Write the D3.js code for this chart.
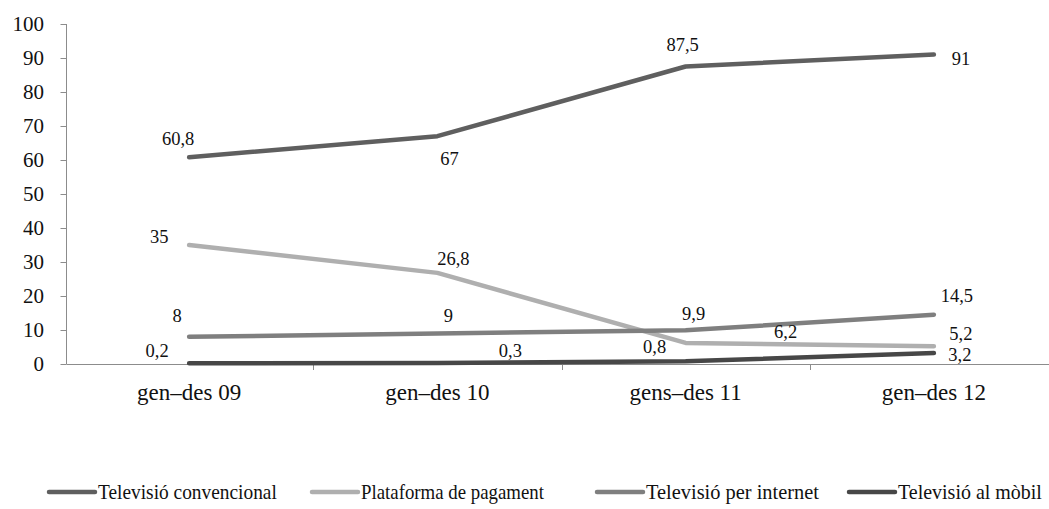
<!DOCTYPE html>
<html>
<head>
<meta charset="utf-8">
<script src="https://cdn.jsdelivr.net/npm/d3@7"></script>
<style>
  body { margin: 0; background: #fff; }
  text { font-family: 'Liberation Serif', Tinos, serif !important; }
</style>
</head>
<body>
<div id="wrapper"></div>
<script>
// categories on the x axis
const categories = ["gen–des 09", "gen–des 10", "gens–des 11", "gen–des 12"];
const seriesNames = [
  "Televisió convencional",
  "Plataforma de pagament",
  "Televisió per internet",
  "Televisió al mòbil"
];
// values per series, one per category
const convencional = [60.8, 67, 87.5, 91];
const pagament = [35, 26.8, 6.2, 5.2];
const internet = [8, 9, 9.9, 14.5];
const mobil = [0.2, 0.3, 0.8, 3.2];
const yTicks = [0, 10, 20, 30, 40, 50, 60, 70, 80, 90, 100];

const seriesValues = [convencional, pagament, internet, mobil];
const colors = ["#5f5f5f", "#afafaf", "#7f7f7f", "#474747"];
const FONT = "'Liberation Serif'";

// where each data label sits relative to its point (px)
const labelOffsets = [
  [[-11, -12], [12, 29], [-3, -16], [27, 10]],
  [[-30, -2], [16, -8], [100, -5], [27, -6]],
  [[-12, -15], [11, -11], [8, -10], [23, -13]],
  [[-32, -6], [73, -6], [-31, -8], [26, 8]]
];

const dimensions = {
  width: 1049,
  height: 509,
  plotLeft: 65,
  plotRight: 1058,
  plotTop: 24,
  plotBottom: 364
};

const fmt = v => String(v).replace(".", ",");

const svg = d3.select("#wrapper")
  .append("svg")
  .attr("width", dimensions.width)
  .attr("height", dimensions.height);

const xScale = d3.scaleBand()
  .domain(categories)
  .range([dimensions.plotLeft, dimensions.plotRight])
  .padding(0);

const xCenter = c => xScale(c) + xScale.bandwidth() / 2;

const yScale = d3.scaleLinear()
  .domain([0, 100])
  .range([dimensions.plotBottom, dimensions.plotTop]);

const axisX = dimensions.plotLeft + 1.5;

// y axis
const yAxis = svg.append("g");
yAxis.append("line")
  .attr("x1", axisX).attr("x2", axisX)
  .attr("y1", yScale(100)).attr("y2", yScale(0))
  .attr("stroke", "#8c8c8c");
yAxis.selectAll(".ytick")
  .data(yTicks)
  .join("line")
  .attr("class", "ytick")
  .attr("x1", axisX - 6).attr("x2", axisX)
  .attr("y1", d => Math.round(yScale(d)) + 0.5)
  .attr("y2", d => Math.round(yScale(d)) + 0.5)
  .attr("stroke", "#8c8c8c");
yAxis.selectAll(".ylabel")
  .data(yTicks)
  .join("text")
  .attr("class", "ylabel")
  .attr("x", 44)
  .attr("y", d => yScale(d) + 7)
  .attr("text-anchor", "end")
  .attr("fill", "#111")
  .attr("font-family", FONT)
  .attr("font-size", 21)
  .text(d => d);

// x axis: line across, ticks between categories
const xAxis = svg.append("g");
xAxis.append("line")
  .attr("x1", axisX)
  .attr("x2", dimensions.width)
  .attr("y1", dimensions.plotBottom + 0.5)
  .attr("y2", dimensions.plotBottom + 0.5)
  .attr("stroke", "#8c8c8c");
xAxis.selectAll(".xtick")
  .data(categories.slice(1))
  .join("line")
  .attr("class", "xtick")
  .attr("x1", d => Math.round(xScale(d)) + 0.5)
  .attr("x2", d => Math.round(xScale(d)) + 0.5)
  .attr("y1", dimensions.plotBottom)
  .attr("y2", dimensions.plotBottom + 6)
  .attr("stroke", "#8c8c8c");
xAxis.selectAll(".xlabel")
  .data(categories)
  .join("text")
  .attr("class", "xlabel")
  .attr("x", d => xCenter(d))
  .attr("y", dimensions.plotBottom + 36)
  .attr("text-anchor", "middle")
  .attr("fill", "#111")
  .attr("font-family", FONT)
  .attr("font-size", 23)
  .text(d => d);

// lines
const line = d3.line()
  .x((d, i) => xCenter(categories[i]))
  .y(d => yScale(d));

svg.append("g")
  .selectAll("path")
  .data(seriesValues)
  .join("path")
  .attr("d", d => line(d))
  .attr("fill", "none")
  .attr("stroke", (d, i) => colors[i])
  .attr("stroke-width", 4.5)
  .attr("stroke-linecap", "round")
  .attr("stroke-linejoin", "round");

// data labels
seriesValues.forEach((vals, s) => {
  svg.append("g")
    .selectAll("text")
    .data(vals)
    .join("text")
    .attr("x", (d, i) => xCenter(categories[i]) + labelOffsets[s][i][0])
    .attr("y", (d, i) => yScale(d) + labelOffsets[s][i][1])
    .attr("text-anchor", "middle")
    .attr("fill", "#111")
    .attr("font-family", FONT)
    .attr("font-size", 18.5)
    .text(d => fmt(d));
});

// legend (text squeezed horizontally like the original)
const legendX = [47, 310, 595, 847];
const legendTextW = [179, 183, 173, 144];
const legendY = 492;
const items = svg.append("g")
  .selectAll("g")
  .data(seriesNames)
  .join("g")
  .attr("transform", (d, i) => `translate(${legendX[i]},${legendY})`);
items.append("line")
  .attr("x1", 2)
  .attr("x2", 48)
  .attr("stroke", (d, i) => colors[i])
  .attr("stroke-width", 4.5)
  .attr("stroke-linecap", "round");
items.append("text")
  .attr("fill", "#111")
  .attr("font-family", FONT)
  .attr("font-size", 21)
  .text(d => d)
  .attr("transform", function(d, i) {
    let len = legendTextW[i];
    try { len = this.getComputedTextLength() || len; } catch (e) {}
    const k = Math.min(1, legendTextW[i] / len);
    return `translate(51,7) scale(${k},1)`;
  });
</script>
</body>
</html>
